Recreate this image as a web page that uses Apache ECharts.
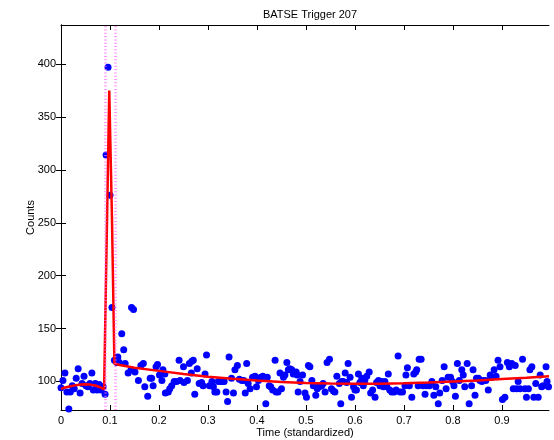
<!DOCTYPE html>
<html>
<head>
<meta charset="utf-8">
<script src="https://cdn.jsdelivr.net/npm/echarts@6/dist/echarts.min.js"></script>
<style>html,body{margin:0;padding:0;background:#fff}#c{width:554px;height:440px}</style>
</head>
<body>
<div id="c"></div>
<script>
var titleText = 'BATSE Trigger 207';
var xName = 'Time (standardized)';
var yName = 'Counts';
var xTicks = [0, 0.1, 0.2, 0.3, 0.4, 0.5, 0.6, 0.7, 0.8, 0.9];
var yTicks = [100, 150, 200, 250, 300, 350, 400];
var xRange = [0, 0.996];
var yRange = [73, 437];
var boundaryTimes = [0.092, 0.107];

// observed counts [time, counts]
var observed = [
[0.000,94],[0.004,101],[0.008,108],[0.012,90],[0.016,74],[0.019,90],[0.023,96],[0.027,93],[0.031,103],[0.035,112],
[0.039,89],[0.043,98],[0.047,105],[0.051,96],[0.055,95],[0.059,98],[0.063,108],[0.066,92],[0.070,98],[0.074,92],
[0.078,97],[0.082,92],[0.086,95],[0.090,88],
[0.092,314],[0.096,397],[0.100,276],[0.104,170],[0.109,120],[0.114,118],[0.116,123],[0.119,118],[0.124,145],[0.128,130],
[0.131,117],[0.137,108],[0.143,111],[0.144,170],[0.148,168],[0.151,109],[0.158,101],[0.163,115],[0.168,117],[0.171,95],
[0.177,86],[0.182,103],[0.185,103],[0.188,96],[0.194,114],[0.197,116],[0.201,106],[0.206,101],[0.208,111],[0.212,107],
[0.213,89],[0.219,90],[0.222,93],[0.226,96],[0.231,100],[0.236,100],[0.241,120],[0.243,101],[0.250,114],[0.251,99],
[0.258,101],[0.262,117],[0.266,108],[0.267,119],[0.270,120],[0.273,88],[0.278,112],[0.282,98],[0.287,99],[0.290,96],
[0.294,107],[0.297,125],[0.303,96],[0.308,100],[0.311,95],[0.314,90],[0.318,90],[0.321,100],[0.326,100],[0.330,100],
[0.333,100],[0.337,90],[0.340,81],[0.343,123],[0.348,103],[0.352,89],[0.355,111],[0.360,115],[0.364,102],[0.369,101],
[0.373,101],[0.376,89],[0.379,117],[0.382,98],[0.386,93],[0.391,104],[0.396,105],[0.399,95],[0.403,101],[0.408,104],
[0.412,105],[0.414,103],[0.418,79],[0.421,104],[0.425,96],[0.428,95],[0.432,92],[0.437,120],[0.439,90],[0.443,90],
[0.447,108],[0.450,93],[0.454,104],[0.457,106],[0.461,118],[0.464,111],[0.467,112],[0.471,111],[0.474,107],[0.480,109],
[0.482,106],[0.484,90],[0.488,100],[0.493,106],[0.498,89],[0.501,85],[0.505,115],[0.508,114],[0.512,101],[0.515,96],
[0.520,87],[0.523,93],[0.527,95],[0.532,96],[0.535,98],[0.539,90],[0.543,118],[0.548,121],[0.552,93],[0.556,91],
[0.559,90],[0.563,105],[0.568,98],[0.571,79],[0.573,100],[0.576,100],[0.580,108],[0.583,99],[0.586,117],[0.590,104],
[0.593,85],[0.597,95],[0.600,92],[0.603,92],[0.607,107],[0.610,99],[0.614,103],[0.617,96],[0.620,101],[0.624,105],
[0.629,109],[0.632,89],[0.636,92],[0.641,85],[0.644,99],[0.648,101],[0.651,96],[0.654,100],[0.658,95],[0.661,100],
[0.665,95],[0.668,107],[0.671,92],[0.675,90],[0.680,90],[0.684,92],[0.688,124],[0.692,90],[0.697,90],[0.702,96],
[0.704,106],[0.707,113],[0.711,96],[0.716,85],[0.720,107],[0.724,109],[0.726,111],[0.729,96],[0.731,121],[0.735,121],
[0.739,96],[0.743,88],[0.746,96],[0.752,96],[0.757,100],[0.761,87],[0.765,95],[0.770,79],[0.773,89],[0.778,101],
[0.782,114],[0.786,93],[0.790,104],[0.795,104],[0.799,100],[0.802,96],[0.805,86],[0.809,117],[0.813,101],[0.818,111],
[0.821,106],[0.824,95],[0.829,117],[0.833,79],[0.838,96],[0.841,111],[0.845,87],[0.848,103],[0.852,103],[0.855,101],
[0.859,100],[0.862,101],[0.867,101],[0.872,92],[0.876,106],[0.879,104],[0.884,111],[0.888,105],[0.892,120],[0.896,114],
[0.901,83],[0.906,85],[0.911,118],[0.915,114],[0.920,117],[0.923,93],[0.927,115],[0.930,93],[0.933,100],[0.937,93],
[0.942,121],[0.947,93],[0.950,85],[0.954,93],[0.957,111],[0.961,114],[0.965,85],[0.969,98],[0.974,85],[0.978,106],
[0.981,95],[0.984,96],[0.990,114],[0.992,100],[0.995,95]
];

// fitted model [time, counts]
var fitted = [
[0.000,93],[0.010,94.5],[0.020,95.5],[0.030,96.5],[0.040,97],[0.050,97.3],[0.060,97],[0.070,96.2],[0.080,94.5],[0.088,92.5],
[0.091,92],[0.0985,375],[0.104,255],[0.109,117],[0.120,115.5],[0.150,113],[0.200,110],[0.250,107],[0.300,104.5],[0.350,102.5],
[0.400,100.8],[0.450,99.5],[0.500,98.5],[0.550,98],[0.600,97.8],[0.650,97.8],[0.700,98.2],[0.750,99],[0.800,100],[0.850,101],
[0.900,102.3],[0.950,103.5],[0.996,105]
];

var chart = echarts.init(document.getElementById('c'), null, {renderer: 'canvas'});
var fontFam = '"Liberation Sans", Arial, sans-serif';
var axisLineStyle = {color: '#000', width: 1};
function tickOpt(vals) {
  return {show: true, inside: false, length: -5, customValues: vals, lineStyle: axisLineStyle};
}
chart.setOption({
  animation: false,
  backgroundColor: '#fff',
  title: {
    text: titleText, left: 305, top: 4, textAlign: 'center',
    textStyle: {fontFamily: fontFam, fontSize: 11, fontWeight: 'normal', color: '#000'}
  },
  grid: {left: 61, right: 5, top: 25, bottom: 30, containLabel: false, outerBoundsMode: 'none'},
  xAxis: [{
    type: 'value', min: xRange[0], max: xRange[1], position: 'bottom',
    name: xName, nameLocation: 'middle', nameGap: 17, nameMoveOverlap: false,
    nameTextStyle: {fontFamily: fontFam, fontSize: 11, color: '#000'},
    axisLine: {show: true, lineStyle: axisLineStyle},
    axisTick: tickOpt(xTicks),
    axisLabel: {show: true, customValues: xTicks, margin: 5, fontFamily: fontFam, fontSize: 11, color: '#000',
      formatter: function (v) { return v === 0 ? '0' : String(Math.round(v * 10) / 10); }},
    splitLine: {show: false}
  }, {
    type: 'value', min: xRange[0], max: xRange[1], position: 'top',
    axisLine: {show: true, lineStyle: axisLineStyle},
    axisTick: tickOpt(xTicks),
    axisLabel: {show: false}, splitLine: {show: false}
  }],
  yAxis: [{
    type: 'value', min: yRange[0], max: yRange[1], position: 'left',
    name: yName, nameLocation: 'middle', nameGap: 25, nameRotate: 90, nameMoveOverlap: false,
    nameTextStyle: {fontFamily: fontFam, fontSize: 11, color: '#000'},
    axisLine: {show: true, lineStyle: axisLineStyle},
    axisTick: tickOpt(yTicks),
    axisLabel: {show: true, customValues: yTicks, margin: 5, fontFamily: fontFam, fontSize: 11, color: '#000'},
    splitLine: {show: false}
  }, {
    type: 'value', min: yRange[0], max: yRange[1], position: 'right',
    axisLine: {show: true, lineStyle: axisLineStyle},
    axisTick: tickOpt(yTicks),
    axisLabel: {show: false}, splitLine: {show: false}
  }],
  series: [{
    type: 'scatter', xAxisIndex: 0, yAxisIndex: 0,
    data: observed, symbol: 'circle', symbolSize: 7,
    itemStyle: {color: '#0000ff', opacity: 1},
    z: 2,
    markLine: {
      silent: true, symbol: ['none', 'none'], label: {show: false},
      lineStyle: {color: '#ff66ff', width: 2.5, type: [1, 2.3], opacity: 0.8},
      emphasis: {disabled: true},
      data: boundaryTimes.map(function (t) { return {xAxis: t, lineStyle: {color: '#ff66ff', width: 2.5, type: [1, 2.3], opacity: 0.8}}; })
    }
  }, {
    type: 'line', xAxisIndex: 0, yAxisIndex: 0,
    data: fitted, showSymbol: false, symbol: 'none', smooth: false,
    lineStyle: {color: '#ff0000', width: 2.5},
    z: 3
  }]
});
</script>
</body>
</html>
